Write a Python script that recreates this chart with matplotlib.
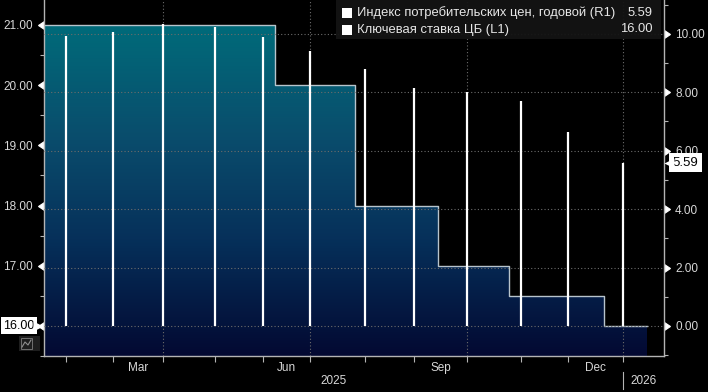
import numpy as np
import pandas as pd
import matplotlib
matplotlib.use('Agg')
import matplotlib.pyplot as plt
from matplotlib.colors import LinearSegmentedColormap
from matplotlib.patches import Rectangle
from matplotlib.ticker import FixedLocator, FuncFormatter
from matplotlib.transforms import blended_transform_factory

plt.rcParams['font.family'] = ['Liberation Sans', 'DejaVu Sans']

# key rate (L1), step series: date the new rate takes effect
rate_dates = ['2025-01-01', '2025-06-09', '2025-07-28', '2025-09-15',
              '2025-10-27', '2025-12-22', '2026-01-15']
rate_vals = [21.0, 20.0, 18.0, 17.0, 16.5, 16.0, 16.0]

# CPI yoy (R1), monthly, Jan..Dec 2025
cpi_months = pd.period_range('2025-01', '2025-12', freq='M')
cpi_vals = [9.92, 10.06, 10.34, 10.23, 9.88, 9.40, 8.79, 8.14, 8.00, 7.71, 6.64, 5.59]

legend_names = ['Индекс потребительских цен, годовой (R1)', 'Ключевая ставка ЦБ (L1)']
legend_vals = ['5.59', '16.00']

# the x axis is a business-day axis (weekends and holidays squeezed out)
origin = np.datetime64('2025-01-01')
holidays = np.array(['2025-01-01', '2025-05-01', '2025-05-09', '2025-06-12'],
                    dtype='datetime64[D]')


def bx(dates):
    d = np.asarray(pd.to_datetime(dates).values.astype('datetime64[D]'))
    return np.busday_count(origin, d, holidays=holidays).astype(float)


month_starts = pd.date_range('2025-02-01', '2026-01-01', freq='MS')
quarter_starts = pd.date_range('2025-04-01', '2026-01-01', freq='QS')
label_months = pd.to_datetime(['2025-03-01', '2025-06-01', '2025-09-01', '2025-12-01'])

ms = bx(month_starts)
xlim = (ms[0] - 9.3, ms[-1] + 17.3)
yl = (15.5, 21.415)
yr = (-1.03, 11.16)

W, H = 708, 392
fig = plt.figure(figsize=(W / 100, H / 100), dpi=100, facecolor='black')
ax = fig.add_axes([44 / W, 36 / H, 620 / W, 356 / H])
ax.set_facecolor('black')
ax2 = ax.twinx()

spine_c = '#b4b4b4'
lab_c = '#d8d8d8'
grid_c = '#6c6c6c'

# gradient area for the key rate
rx = bx(rate_dates)
fill = ax.fill_between(rx, rate_vals, yl[0], step='post',
                       facecolor='none', edgecolor='none')
cmap = LinearSegmentedColormap.from_list('area', [(0.0, '#030932'), (0.35, '#06305a'),
                                                  (0.65, '#0a4c6c'), (1.0, '#006b7a')])
grad = np.linspace(0, 1, 256).reshape(-1, 1)
im = ax.imshow(grad, extent=[rx[0], rx[-1], yl[0], max(rate_vals)],
               origin='lower', aspect='auto', cmap=cmap, zorder=1)
im.set_clip_path(fill.get_paths()[0], ax.transData)
ax.step(rx, rate_vals, where='post', color='#b8c4cc', lw=1, zorder=2)

# quarter gridlines
for q in bx(quarter_starts):
    ax.axvline(q, color=grid_c, ls=(0, (1, 2)), lw=0.8, zorder=1.5)

ax.set_xlim(*xlim)
ax.set_ylim(*yl)
ax2.set_ylim(*yr)

# CPI bars, drawn on the month boundary after each month
cx = bx(cpi_months.end_time + pd.Timedelta(days=1))
ax2.vlines(cx, 0, cpi_vals, colors='white', lw=1.6, zorder=3)
ax2.grid(axis='y', which='major', color=grid_c, ls=(0, (1, 2)), lw=0.8)

# spines
for s in ['top', 'right']:
    ax.spines[s].set_visible(False)
for s in ['top', 'left', 'bottom']:
    ax2.spines[s].set_visible(False)
for sp in [ax.spines['left'], ax.spines['bottom'], ax2.spines['right']]:
    sp.set_color(spine_c)
    sp.set_linewidth(1)

# left axis ticks (16.00 is covered by the last-value tag)
ax.yaxis.set_major_locator(FixedLocator(np.arange(16, 22, 1.0)))
ax.yaxis.set_minor_locator(FixedLocator(np.arange(15.5, 21.5, 1.0)))
ax.yaxis.set_major_formatter(FuncFormatter(lambda v, p: '' if v == rate_vals[-1] else f'{v:.2f}'))
ax.tick_params(axis='y', which='major', length=7, pad=1, color='white',
               labelcolor=lab_c, labelsize=8.5)
ax.tick_params(axis='y', which='minor', length=3, width=0.8, color=spine_c)
for t in ax.yaxis.get_major_ticks():
    t.tick1line.set_marker(8)
    t.tick1line.set_markersize(5.5)

# right axis ticks
ax2.yaxis.set_major_locator(FixedLocator(np.arange(0, 11, 2.0)))
ax2.yaxis.set_minor_locator(FixedLocator(np.arange(-1, 12, 2.0)))
ax2.yaxis.set_major_formatter(plt.FormatStrFormatter('%.2f'))
ax2.tick_params(axis='y', which='major', length=7, pad=1, color='white',
                labelcolor=lab_c, labelsize=8.5)
ax2.tick_params(axis='y', which='minor', length=3, width=0.8, color=spine_c)
for t in ax2.yaxis.get_major_ticks():
    t.tick2line.set_marker(9)
    t.tick2line.set_markersize(5.5)

# x axis: month boundary ticks, labels mid-month
narrow = ['Liberation Sans Narrow', 'Liberation Sans', 'DejaVu Sans']
lab_pos = (bx(label_months) + bx(label_months + pd.offsets.MonthBegin(1))) / 2
ax.set_xticks(lab_pos, [d.strftime('%b') for d in label_months])
ax.xaxis.set_minor_locator(FixedLocator(ms))
ax.tick_params(axis='x', which='major', length=0, pad=4, labelcolor=lab_c, labelsize=8.5)
ax.tick_params(axis='x', which='minor', length=4, width=0.8, color=spine_c)
for lab in ax.get_xticklabels():
    lab.set_family(narrow)

bt = blended_transform_factory(ax.transData, ax.transAxes)
ny = ms[-1]
ax.text((xlim[0] + ny) / 2, -0.07, '2025', transform=bt, ha='center', va='center',
        color=lab_c, fontsize=8.5, family=narrow)
ax.text((ny + xlim[1]) / 2, -0.07, '2026', transform=bt, ha='center', va='center',
        color=lab_c, fontsize=8.5, family=narrow)
ax.plot([ny, ny], [-0.045, -0.092], transform=bt, color=spine_c, lw=0.8, clip_on=False)

# last value tags
tl = blended_transform_factory(ax.transAxes, ax.transData)
ax.text(-0.015, rate_vals[-1], legend_vals[1], transform=tl, ha='right', va='center',
        fontsize=9, color='black', zorder=6,
        bbox=dict(boxstyle='square,pad=0.2', fc='white', ec='none'))
ax.plot([-0.01], [rate_vals[-1]], marker='>', ms=7, color='white', mec='none',
        transform=tl, clip_on=False, zorder=6)
tr = blended_transform_factory(ax2.transAxes, ax2.transData)
ax2.text(1.014, cpi_vals[-1], legend_vals[0], transform=tr, ha='left', va='center',
         fontsize=9.5, color='black', zorder=6,
         bbox=dict(boxstyle='square,pad=0.25', fc='white', ec='none'))
ax2.plot([1.008], [cpi_vals[-1]], marker='<', ms=7, color='white', mec='none',
         transform=tr, clip_on=False, zorder=6)

# legend box
fig.add_artist(Rectangle((336 / W, 1 - 39 / H), 325 / W, 39 / H, transform=fig.transFigure,
                         fc='#141414', ec='none', alpha=0.95, zorder=5))
for i, (name, val) in enumerate(zip(legend_names, legend_vals)):
    yc = 13 + i * 16.5
    fig.add_artist(Rectangle((342 / W, 1 - (yc + 5) / H), 10 / W, 10 / H,
                             transform=fig.transFigure, fc='white', ec='none', zorder=6))
    fig.text(357 / W, 1 - yc / H, name, ha='left', va='center', color='#e6e6e6',
             fontsize=9.4, zorder=6)
    fig.text(653 / W, 1 - yc / H, val, ha='right', va='center', color='#e6e6e6',
             fontsize=9.4, zorder=6)

# small chart-type icon at bottom left
fig.add_artist(Rectangle((19 / W, 1 - 351 / H), 21 / W, 15 / H, transform=fig.transFigure,
                         fc='#1e1e1e', ec='none', zorder=5))
fig.add_artist(Rectangle((21 / W, 1 - 349 / H), 11 / W, 11 / H, transform=fig.transFigure,
                         fc='none', ec='#707070', lw=0.7, zorder=6))
fig.add_artist(plt.Line2D(np.array([22, 25, 28, 31]) / W, 1 - np.array([347, 342, 345, 340]) / H,
                          transform=fig.transFigure, color='#909090', lw=0.8, zorder=6))

fig.savefig('out.png', dpi=100, facecolor='black')
